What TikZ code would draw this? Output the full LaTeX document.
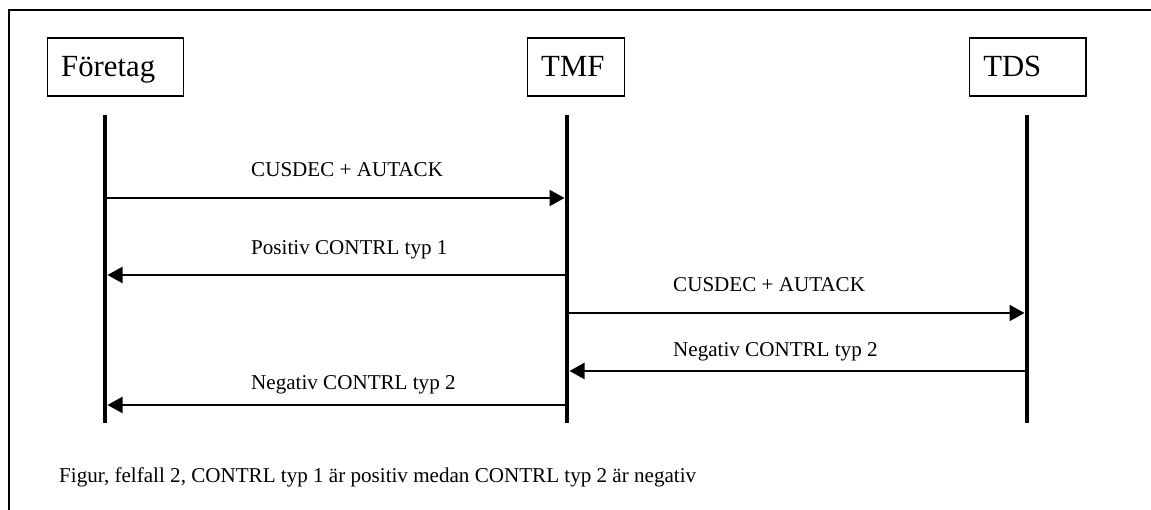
\documentclass[tikz,border=0pt]{standalone}
\usepackage{fontspec}
\setmainfont{Liberation Serif}
\usetikzlibrary{arrows.meta}

\tikzset{
	party/.style={draw, line width=0.85pt, minimum height=1.16cm, inner xsep=0.27cm, text height=0.5cm, text depth=0.1cm, align=left, anchor=west, font=\fontsize{17.5}{20}\selectfont},
	lifeline/.style={line width=2.8pt},
	msg/.style={line width=1.3pt, -{Triangle[length=0.3cm,width=0.32cm]}, shorten >=0.05cm},
	msglabel/.style={anchor=base west, font=\fontsize{12}{14}\selectfont}
}

\begin{document}
\begin{tikzpicture}
	\useasboundingbox (0,0) rectangle (23.02,10.2);

	%frame
	\draw[line width=0.9pt]	(0.18,-0.1)--(0.18,10.0)--(23.2,10.0);

	%parties
	\node[party, text width=2.18cm] (foretag) at (0.94,8.86)  {Företag};
	\node[party, text width=1.40cm] (tmf) 	  at (10.54,8.86) {TMF};
	\node[party, text width=1.78cm] (tds) 	  at (19.38,8.86) {TDS};

	%lifelines
	\coordinate (f top) at (2.10,7.90);		\coordinate (f bot) at (2.10,1.74);
	\coordinate (t top) at (11.34,7.90);	\coordinate (t bot) at (11.34,1.74);
	\coordinate (d top) at (20.54,7.90);	\coordinate (d bot) at (20.54,1.74);
	\draw[lifeline]	(f top)--(f bot);
	\draw[lifeline]	(t top)--(t bot);
	\draw[lifeline]	(d top)--(d bot);

	%messages
	\coordinate (m1) at (0,6.24);
	\coordinate (m2) at (0,4.70);
	\coordinate (m3) at (0,3.94);
	\coordinate (m4) at (0,2.78);
	\coordinate (m5) at (0,2.10);
	\draw[msg]	(f top |- m1)--(t top |- m1);	%foretag to tmf
	\draw[msg]	(t top |- m2)--(f top |- m2);	%tmf to foretag
	\draw[msg]	(t top |- m3)--(d top |- m3);	%tmf to tds
	\draw[msg]	(d top |- m4)--(t top |- m4);	%tds to tmf
	\draw[msg]	(t top |- m5)--(f top |- m5);	%tmf to foretag

	%labels
	\node[msglabel] (l1) at (4.90,6.66)  {CUSDEC + AUTACK};
	\node[msglabel] (l2) at (4.90,5.10)  {Positiv CONTRL typ 1};
	\node[msglabel] (l3) at (13.34,4.36) {CUSDEC + AUTACK};
	\node[msglabel] (l4) at (13.34,3.06) {Negativ CONTRL typ 2};
	\node[msglabel] (l5) at (4.90,2.40)  {Negativ CONTRL typ 2};

	%caption
	\node[msglabel] (caption) at (1.06,0.54) {Figur, felfall 2, CONTRL typ 1 är positiv medan CONTRL typ 2 är negativ};
\end{tikzpicture}
\end{document}
